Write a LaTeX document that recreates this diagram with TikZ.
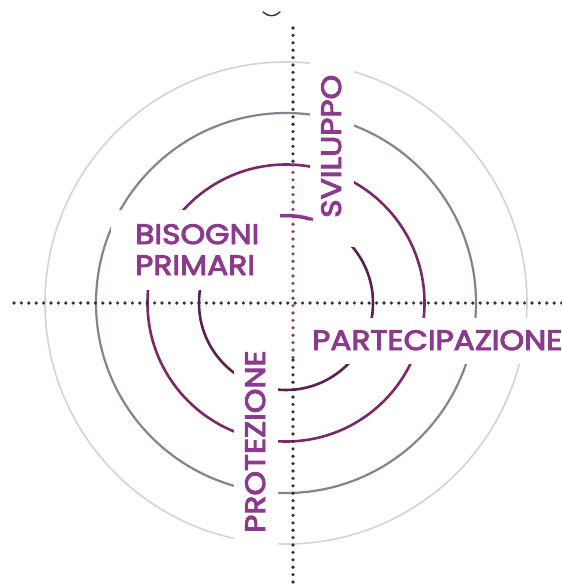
\documentclass[tikz,border=0pt]{standalone}
\usepackage{fontspec}
\newfontfamily\labfont{Poppins}[FakeBold=3.5, FakeStretch=1.12]
\definecolor{txt}{RGB}{140,58,140}
\definecolor{ringA}{RGB}{212,212,212}
\definecolor{ringB}{RGB}{138,128,144}
\definecolor{ringC}{RGB}{122,40,104}
\definecolor{ringD}{RGB}{90,32,80}
\definecolor{dotdark}{RGB}{55,45,65}
\definecolor{dotpurple}{RGB}{140,58,140}
\tikzset{
  lab/.style={text=txt, font=\labfont\fontsize{28}{31}\selectfont, inner sep=0pt},
  ring/.style={line width=#1},
  dotline/.style={line width=3.6pt, line cap=round, dash pattern=on 0pt off 7.4pt},
  mask/.style={fill=white, draw=none}
}
\begin{document}
\begin{tikzpicture}[x=1pt,y=-1pt]
\useasboundingbox[fill=white] (0,0) rectangle (562,584);
\coordinate (c) at (286,303);
% rings
\draw[ringA, ring=1.6pt] (c) circle[radius=241];
\draw[ringB, ring=2.2pt] (c) circle[radius=190];
\draw[ringC, ring=2.6pt] (c) circle[radius=138.5];
\draw[ringD, ring=2.6pt] (c) circle[radius=87];
% white backgrounds of the labels
\fill[mask] (111,210) rectangle (280,290);
\fill[mask] (310,50) rectangle (354,247);
\fill[mask] (303,318) rectangle (562,364);
\fill[mask] (234,335) rectangle (278,546);
% visible piece of the inner ring
\draw[dotpurple, line width=3pt] (280,215.5) arc[start angle=-94, end angle=-72, radius=87];
% labels
\node[lab, anchor=base west] (bis) at (135,244) {BISOGNI};
\node[lab, anchor=base west] (pri) at (135,275) {PRIMARI};
\node[lab, anchor=base west, rotate=90] (svi) at (341,218) {SVILUPPO};
\node[lab, anchor=base west] (par) at (312,350) {PARTECIPAZIONE};
\node[lab, anchor=base west, rotate=90] (pro) at (265,533) {PROTEZIONE};
% axes
\coordinate (vt) at (293,28);
\coordinate (vm1) at (293,165);
\coordinate (vm2) at (293,360);
\coordinate (vb) at (293,584);
\coordinate (hl) at (14,303);
\coordinate (hr) at (562,303);
\draw[dotline, dotdark] (hl) -- (hr);
\draw[dotline, dotdark] (vt) -- (vm1);
\draw[dotline, dotpurple] (vm1) -- (vm2);
\draw[dotline, dotdark] (vm2) -- (vb);
% small mark at the top
\draw[dotdark, line width=1.4pt, line cap=round] (263,12) .. controls (268,17) and (275,17) .. (280,12);
\end{tikzpicture}
\end{document}
